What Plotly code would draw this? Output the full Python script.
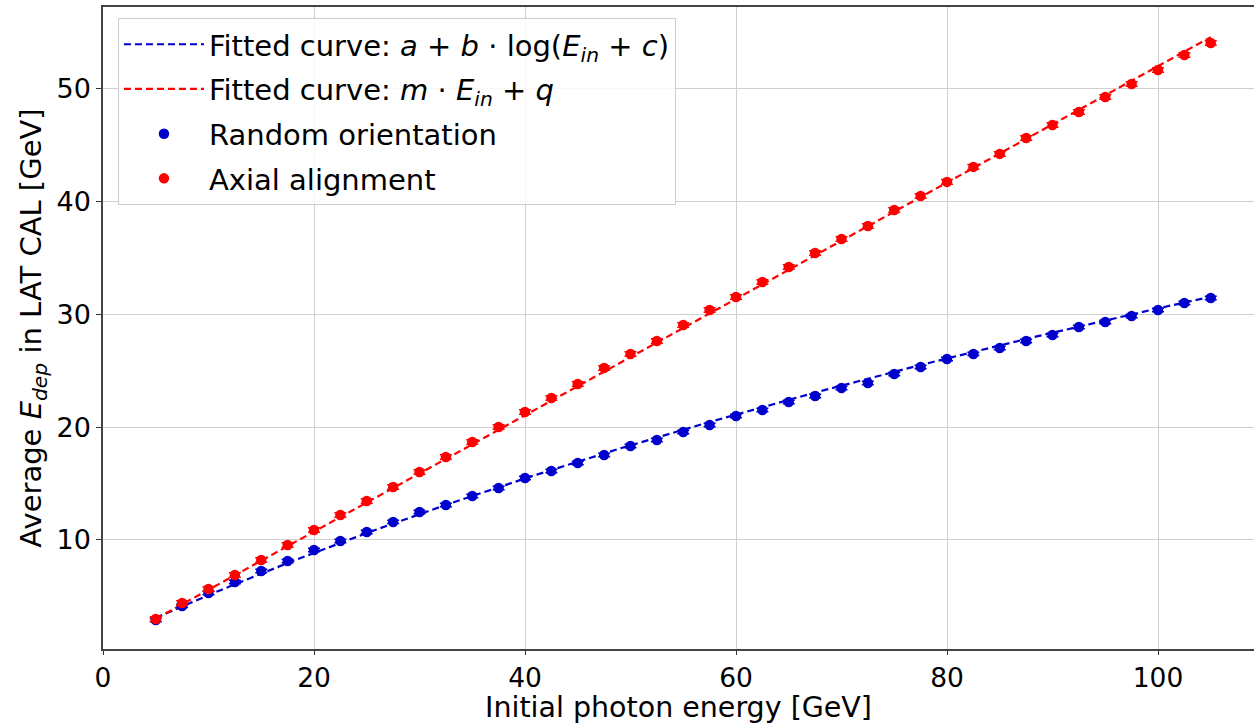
import numpy as np
import plotly.graph_objects as go

# ---- data ----
energy = [5, 7.5, 10, 12.5, 15, 17.5, 20, 22.5, 25, 27.5, 30, 32.5, 35, 37.5, 40,
          42.5, 45, 47.5, 50, 52.5, 55, 57.5, 60, 62.5, 65, 67.5, 70, 72.5, 75,
          77.5, 80, 82.5, 85, 87.5, 90, 92.5, 95, 97.5, 100, 102.5, 105]

random_orient = [2.90, 4.15, 5.30, 6.27, 7.25, 8.14, 9.11, 9.91, 10.71, 11.60,
                 12.48, 13.10, 13.90, 14.61, 15.50, 16.12, 16.83, 17.54, 18.34,
                 18.87, 19.58, 20.20, 21.00, 21.53, 22.24, 22.77, 23.48, 23.92,
                 24.72, 25.34, 26.05, 26.50, 27.03, 27.65, 28.18, 28.89, 29.33,
                 29.87, 30.40, 31.02, 31.46]
random_err = [0.15] * len(energy)

axial_align = [2.99, 4.41, 5.65, 6.90, 8.23, 9.56, 10.89, 12.22, 13.46, 14.70,
               16.03, 17.36, 18.69, 20.02, 21.35, 22.59, 23.84, 25.26, 26.50,
               27.65, 29.07, 30.40, 31.55, 32.88, 34.21, 35.45, 36.70, 37.85,
               39.27, 40.51, 41.76, 43.09, 44.24, 45.65, 46.81, 47.96, 49.29,
               50.44, 51.68, 53.02, 54.08]
axial_err = [0.2] * len(energy)

# fit parameters
fit_a, fit_b, fit_c = -182.6, 40.5, 93.0
fit_m, fit_q = 0.516, 0.42

x_fit = np.linspace(min(energy), max(energy), 300)
y_log = fit_a + fit_b * np.log(x_fit + fit_c)
y_lin = fit_m * x_fit + fit_q

BLUE = "#0000cd"
RED = "#ff0000"
FONT = "DejaVu Sans"

fig = go.Figure()

fig.add_trace(go.Scatter(
    x=x_fit, y=y_log, mode="lines",
    line=dict(color=BLUE, width=2.2, dash="7px,4px"),
    name="Fitted curve: <i>a</i> + <i>b</i> · log(<i>E</i><sub><i>in</i></sub> + <i>c</i>)",
    legendgroup="g1",
))
fig.add_trace(go.Scatter(
    x=x_fit, y=y_lin, mode="lines",
    line=dict(color=RED, width=2.2, dash="7px,4px"),
    name="Fitted curve: <i>m</i> · <i>E</i><sub><i>in</i></sub> + <i>q</i>",
    legendgroup="g2",
))
fig.add_trace(go.Scatter(
    x=energy, y=random_orient, mode="markers",
    marker=dict(color=BLUE, size=10.5),
    error_y=dict(type="data", array=random_err, color=BLUE, thickness=1.5, width=6),
    name="Random orientation",
    legendgroup="g3",
))
fig.add_trace(go.Scatter(
    x=energy, y=axial_align, mode="markers",
    marker=dict(color=RED, size=10.5),
    error_y=dict(type="data", array=axial_err, color=RED, thickness=1.5, width=6),
    name="Axial alignment",
    legendgroup="g4",
))

fig.update_layout(
    width=1254, height=724,
    margin=dict(l=103, r=0, t=7, b=75),
    paper_bgcolor="white", plot_bgcolor="white",
    font=dict(family=FONT, size=28, color="black"),
    showlegend=True,
    legend=dict(
        x=0.013, y=0.983, xanchor="left", yanchor="top",
        bgcolor="rgba(255,255,255,0.85)",
        bordercolor="#cccccc", borderwidth=1,
        font=dict(family=FONT, size=29, color="black"),
        tracegroupgap=4,
        itemwidth=80,
    ),
)

fig.update_xaxes(
    range=[0, 109.1],
    tickvals=[0, 20, 40, 60, 80, 100],
    ticks="outside", ticklen=4, tickcolor="#333",
    tickfont=dict(size=26.5, family=FONT),
    showgrid=True, gridcolor="#cfcfcf", gridwidth=1,
    showline=True, linecolor="#444", linewidth=1.5, mirror=True,
    zeroline=False,
    title=dict(text="Initial photon energy [GeV]", font=dict(size=28.5, family=FONT), standoff=12),
)
fig.update_yaxes(
    range=[0.33, 57.27],
    tickvals=[10, 20, 30, 40, 50],
    ticks="outside", ticklen=5, tickcolor="#333",
    tickfont=dict(size=27, family=FONT),
    showgrid=True, gridcolor="#cfcfcf", gridwidth=1,
    showline=True, linecolor="#444", linewidth=1.5, mirror=False,
    zeroline=False,
    title=dict(text="Average <i>E</i><sub><i>dep</i></sub> in LAT CAL [GeV]",
               font=dict(size=29, family=FONT), standoff=6),
)

fig.write_html("out.html")
